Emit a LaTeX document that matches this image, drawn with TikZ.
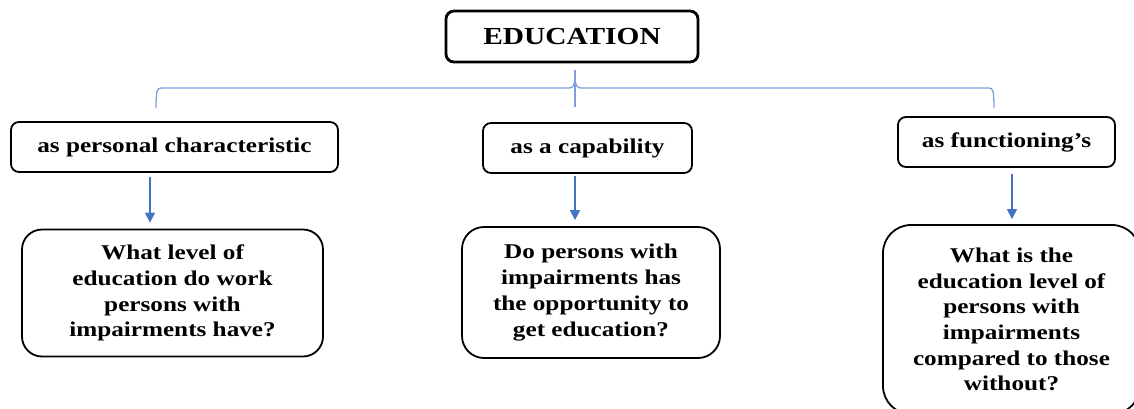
\documentclass[tikz,border=0pt]{standalone}
\usepackage{fontspec}
\setmainfont[FakeStretch=1.2]{Liberation Serif}
\usetikzlibrary{arrows.meta}
\definecolor{arrowblue}{HTML}{4472C4}
\definecolor{bracelight}{HTML}{7F9FDA}

\begin{document}
\begin{tikzpicture}[x=1pt,y=-1pt]
			\tikzstyle{every node}=[font=\bfseries\fontsize{21}{25.7}\selectfont,align=center,inner sep=0pt]
			\tikzstyle{head}=[draw,line width=2.8pt,rounded corners=8pt,
			minimum width=252pt,minimum height=51pt,
			font=\bfseries\fontsize{24.5}{29}\selectfont]
			\tikzstyle{aspect}=[draw,line width=1.8pt,rounded corners=8pt,minimum height=50pt]
			\tikzstyle{question}=[draw,line width=1.8pt]
			\tikzstyle{down}=[arrowblue,line width=1.4pt,-{Triangle[width=10pt,length=10pt]}]
			\useasboundingbox (0,0) rectangle (1134,408);
			% top box
			\node[head] (edu) at (572,36.5) {EDUCATION};
			% the three readings
			\node[aspect,minimum width=327pt] (personal) at (174.5,147) {as personal characteristic};
			\node[aspect,minimum width=209pt] (capab) at (587.5,148) {as a capability};
			\node[aspect,minimum width=217pt] (funct) at (1006.5,142) {as functioning's};
			% questions
			\node[question,rounded corners=20pt,minimum width=301pt,minimum height=127pt] (q1) at (172.5,293)
				{What level of\\education do work\\persons with\\impairments have?};
			\node[question,rounded corners=22pt,minimum width=258pt,minimum height=131pt] (q2) at (591,292.5)
				{Do persons with\\impairments has\\the opportunity to\\get education?};
			\node[question,rounded corners=28pt,minimum width=257pt,minimum height=189pt] (q3) at (1011.5,319.5)
				{What is the\\education level of\\persons with\\impairments\\compared to those\\without?};
			% brace under the top box
			\coordinate (tip) at (575,70);
			\draw[bracelight,line width=1.3pt] (156,108) .. controls (156,91) and (157,88) .. (161,88)
				-- (569,88) .. controls (573,88) and (575,85) .. (575,77)
				.. controls (575,85) and (577,88) .. (581,88)
				-- (989,88) .. controls (993,88) and (994,91) .. (994,108);
			\draw[bracelight,line width=1.3pt] (tip) -- (575,107);
			% arrows down
			\draw[down] ([xshift=-24.5pt,yshift=-4pt]personal.south) -- ([xshift=-22.5pt,yshift=6pt]q1.north);
			\draw[down] ([xshift=-12.5pt,yshift=-2pt]capab.south) -- ([xshift=-16pt,yshift=6pt]q2.north);
			\draw[down] ([xshift=5.5pt,yshift=-6pt]funct.south) -- ([xshift=0.5pt,yshift=5pt]q3.north);
\end{tikzpicture}
\end{document}
